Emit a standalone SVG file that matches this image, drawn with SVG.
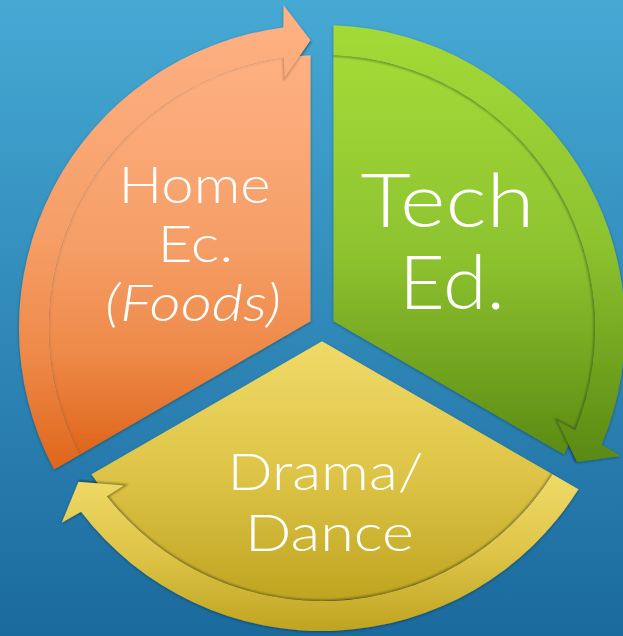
<svg xmlns="http://www.w3.org/2000/svg" width="623" height="636" viewBox="0 0 623 636">
  <style>
    .lbl { fill: #ffffff; font-family: Lato, "Open Sans", "DejaVu Sans", sans-serif; font-weight: 300; text-anchor: middle; }
    .s52 { font-size: 52px; }
    .s75 { font-size: 75px; }
    .ital { font-style: italic; }
    .inner { fill: none; stroke: #000; stroke-width: 3; filter: url(#blur1); }
  </style>
  <defs>
    <linearGradient id="bg" x1="0" y1="0" x2="0" y2="1">
      <stop offset="0" stop-color="#46A9D4"/>
      <stop offset="1" stop-color="#1B6A9D"/>
    </linearGradient>
    <linearGradient id="gOrange" x1="0" y1="0" x2="0" y2="1">
      <stop offset="0" stop-color="#FFB285"/>
      <stop offset="0.5" stop-color="#F59E66"/>
      <stop offset="0.75" stop-color="#EE8A4A"/>
      <stop offset="1" stop-color="#DF661A"/>
    </linearGradient>
    <linearGradient id="gGreen" x1="0" y1="0" x2="0" y2="1">
      <stop offset="0" stop-color="#A3DA37"/>
      <stop offset="0.5" stop-color="#8DC22F"/>
      <stop offset="1" stop-color="#5A8912"/>
    </linearGradient>
    <linearGradient id="gYellow" x1="0" y1="0" x2="0" y2="1">
      <stop offset="0" stop-color="#F0DA68"/>
      <stop offset="0.5" stop-color="#DEC548"/>
      <stop offset="1" stop-color="#BFA420"/>
    </linearGradient>
    <filter id="shadow" x="-10%" y="-10%" width="120%" height="120%">
      <feDropShadow dx="0" dy="1" stdDeviation="1.5" flood-color="#000" flood-opacity="0.35"/>
    </filter>
    <filter id="blur1" x="-10%" y="-10%" width="120%" height="120%">
      <feGaussianBlur stdDeviation="1.2"/>
    </filter>
  </defs>

  <rect width="623" height="636" fill="url(#bg)"/>

  <g id="home-ec" filter="url(#shadow)">
    <path fill="url(#gOrange)" d="M 310.50 321.36 L 80.03 454.42 A 273 273 0 0 1 310.50 55.24 L 310.50 40.23 Z"/>
    <path class="inner" stroke-opacity="0.06" d="M 80.03 454.42 A 273 273 0 0 1 283.87 57.68"/>
    <path class="inner" stroke-opacity="0.2" d="M 283.87 57.68 L 284.60 77.78 L 310.50 40.23"/>
    <path fill="url(#gOrange)" d="M 54.03 469.43 A 303 303 0 0 1 283.39 27.47 L 283.52 5.28 L 310.50 40.23 L 284.60 77.78 L 283.87 57.68 A 273 273 0 0 0 80.03 454.42 Z"/>
    <text class="lbl s52" x="194.5" y="202.7" textLength="152" lengthAdjust="spacingAndGlyphs">Home</text>
    <text class="lbl s52" x="195.5" y="262.3" textLength="76" lengthAdjust="spacingAndGlyphs">Ec.</text>
    <text class="lbl s52 ital" x="193" y="320.7" textLength="176" lengthAdjust="spacingAndGlyphs">(Foods)</text>
  </g>

  <g id="tech-ed" filter="url(#shadow)">
    <path fill="url(#gGreen)" d="M 333.50 321.36 L 333.50 55.24 A 273 273 0 0 1 563.97 454.42 L 576.97 461.93 Z"/>
    <path class="inner" stroke-opacity="0.3" d="M 333.50 55.24 A 273 273 0 0 1 575.17 430.14 L 557.40 420.72 L 576.97 461.93"/>
    <path fill="url(#gGreen)" d="M 333.50 25.22 A 303 303 0 0 1 601.58 444.83 L 620.73 456.03 L 576.97 461.93 L 557.40 420.72 L 575.17 430.14 A 273 273 0 0 0 333.50 55.24 Z"/>
    <text class="lbl s75" x="447.5" y="226.7" textLength="174" lengthAdjust="spacingAndGlyphs">Tech</text>
    <text class="lbl s75" x="452" y="309" textLength="106" lengthAdjust="spacingAndGlyphs">Ed.</text>
  </g>

  <g id="drama-dance" filter="url(#shadow)">
    <path fill="url(#gYellow)" d="M 322 341.28 L 552.47 474.34 A 273 273 0 0 1 91.53 474.34 L 78.53 481.85 Z"/>
    <path class="inner" stroke-opacity="0.35" d="M 552.47 474.34 A 273 273 0 0 1 106.96 496.18 L 124.00 485.50 L 78.53 481.85"/>
    <path fill="url(#gYellow)" d="M 578.47 489.35 A 303 303 0 0 1 81.03 511.71 L 61.75 522.69 L 78.53 481.85 L 124.00 485.50 L 106.96 496.18 A 273 273 0 0 0 552.47 474.34 Z"/>
    <text class="lbl s52" x="325.5" y="490" textLength="196" lengthAdjust="spacingAndGlyphs">Drama/</text>
    <text class="lbl s52" x="329.5" y="551" textLength="169" lengthAdjust="spacingAndGlyphs">Dance</text>
  </g>

  <g id="connectors"/>
</svg>
